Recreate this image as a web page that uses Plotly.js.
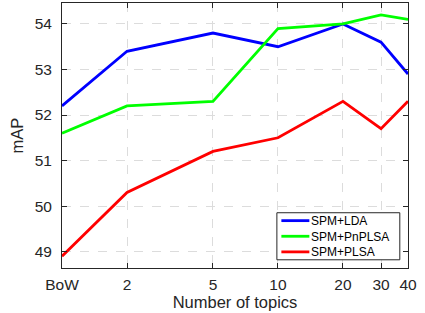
<!DOCTYPE html>
<html><head><meta charset="utf-8">
<script src="https://cdn.plot.ly/plotly-3.0.1.min.js"></script>
<style>html,body{margin:0;padding:0;background:#fff}#c{width:425px;height:313px}</style>
</head><body><div id="c"></div>
<script>
var xPos = [1, 2, 5, 10, 20, 30, 40];
var xLabels = ["BoW", "2", "5", "10", "20", "30", "40"];
var seriesNames = ["SPM+LDA", "SPM+PnPLSA", "SPM+PLSA"];
var lda = [52.2, 53.4, 53.8, 53.5, 54.0, 53.6, 52.9];
var pnplsa = [51.6, 52.2, 52.3, 53.9, 54.0, 54.2, 54.1];
var plsa = [48.9, 50.3, 51.2, 51.5, 52.3, 51.7, 52.3];
var colors = ["#0000ff", "#00ff00", "#ff0000"];
var yTicks = [49, 50, 51, 52, 53, 54];

var FONT = "Liberation Sans, Arial, Helvetica, sans-serif";
var M = {l: 61.5, r: 17.3, t: 3, b: 45.3};
var W = 425, H = 313;
var pw = W - M.l - M.r, ph = H - M.t - M.b;
function px2x(px){ return (px - M.l) / pw; }
function py2y(py){ return (H - M.b - py) / ph; }

var allY = [lda, pnplsa, plsa];
var traces = allY.map(function(ys, i){
  return {x: xPos, y: ys, type: "scatter", mode: "lines", name: seriesNames[i],
          line: {color: colors[i], width: 2.8}, showlegend: false};
});

// compact legend (box, line samples, one multi-line label) in paper coordinates
var legFont = 12;
var rowGap = legFont * 1.3;
var midY = 236;
var shapes = [{type: "rect", xref: "paper", yref: "paper",
  x0: px2x(276.5), x1: px2x(399.5), y0: py2y(259.5), y1: py2y(212.5),
  fillcolor: "#fff", line: {color: "#262626", width: 1}, layer: "above"}];
seriesNames.forEach(function(name, i){
  var ry = midY + (i - 1) * rowGap;
  shapes.push({type: "line", xref: "paper", yref: "paper",
    x0: px2x(281), x1: px2x(309), y0: py2y(ry), y1: py2y(ry),
    line: {color: colors[i], width: 2.8}, layer: "above"});
});
var annotations = [{xref: "paper", yref: "paper", x: px2x(310), y: py2y(midY),
  xanchor: "left", yanchor: "middle", align: "left", showarrow: false, borderpad: 0,
  text: seriesNames.join("<br>"),
  font: {family: FONT, size: legFont, color: "#000"}}];

var axisCommon = {showline: true, linecolor: "#262626", linewidth: 1, mirror: "ticks",
  ticks: "inside", ticklen: 5, tickcolor: "#262626",
  showgrid: true, gridcolor: "#dcdcdc", griddash: "dash", gridwidth: 1, zeroline: false,
  tickfont: {family: FONT, size: 15.5, color: "#262626"}};
var layout = {
  width: W, height: H, margin: M,
  paper_bgcolor: "#fff", plot_bgcolor: "#fff",
  showlegend: false,
  shapes: shapes, annotations: annotations,
  xaxis: Object.assign({}, axisCommon, {type: "log", range: [0, Math.log10(40)],
    tickmode: "array", tickvals: xPos, ticktext: xLabels, ticklabelstandoff: 2,
    title: {text: "Number of topics", standoff: 2, font: {family: FONT, size: 16.5, color: "#262626"}}}),
  yaxis: Object.assign({}, axisCommon, {range: [48.64, 54.46], tickmode: "array", tickvals: yTicks,
    ticktext: yTicks.map(String), ticklabelstandoff: 6,
    title: {text: "mAP", standoff: 6, font: {family: FONT, size: 16.5, color: "#262626"}}})
};
Plotly.newPlot("c", traces, layout, {displayModeBar: false, staticPlot: true});
</script></body></html>
